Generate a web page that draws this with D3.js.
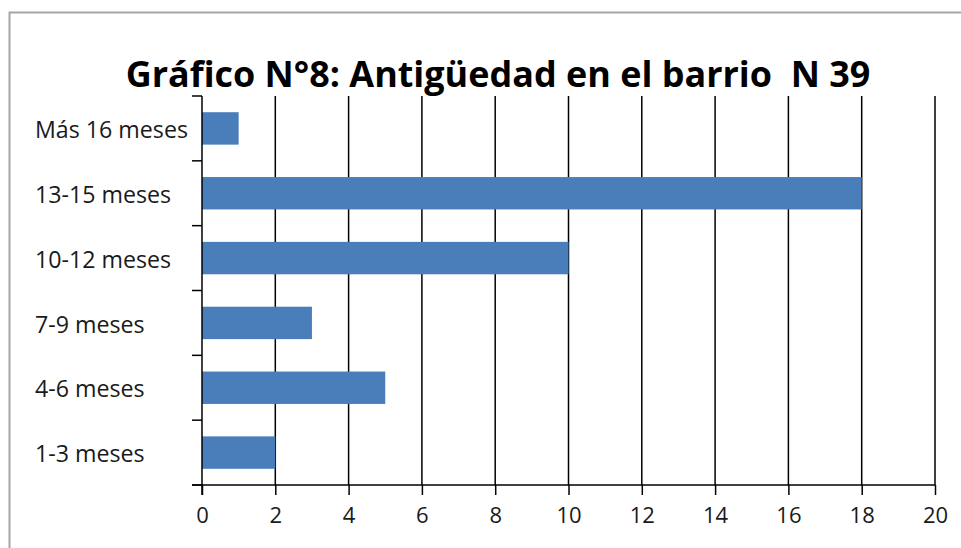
<!DOCTYPE html>
<html><head><meta charset="utf-8">
<script src="https://cdn.jsdelivr.net/npm/d3@7"></script>
<style>body{margin:0;background:#fff;} svg{display:block;}</style>
</head><body>
<svg id="c" width="961" height="548"></svg>
<script>
const categories = ["1-3 meses","4-6 meses","7-9 meses","10-12 meses","13-15 meses","Más 16 meses"];
const values = [2,5,3,10,18,1];
const xTicks = [0,2,4,6,8,10,12,14,16,18,20];
const title = "Gráfico N°8: Antigüedad en el barrio  N 39";

const svg = d3.select("#c");
const FONT = "'Open Sans', Lato, sans-serif";
// frame
svg.append("path").attr("d","M9.5,548 V12.5 H961").attr("fill","none").attr("stroke","#a6a6a6").attr("stroke-width",2);

const m = {left:202, right:935, top:96, bottom:485};
const x = d3.scaleLinear().domain([0,20]).range([m.left,m.right]);
const y = d3.scaleBand().domain(categories.slice().reverse()).range([m.top,m.bottom]).paddingInner(0.5).paddingOuter(0.25);

// gridlines
svg.append("g").selectAll("line").data(xTicks.slice(1)).join("line")
  .attr("x1",d=>x(d)).attr("x2",d=>x(d)).attr("y1",m.top).attr("y2",m.bottom)
  .attr("stroke","#000").attr("stroke-width",1.5);

// bars
svg.append("g").selectAll("rect").data(categories).join("rect")
  .attr("x",x(0)).attr("y",(d)=>y(d)).attr("height",y.bandwidth())
  .attr("width",(d,i)=>x(values[i])-x(0)).attr("fill","#4a7ebb");

// x axis
const xa = svg.append("g").attr("transform",`translate(0,${m.bottom})`)
  .call(d3.axisBottom(x).tickValues(xTicks).tickSize(10).tickPadding(12).tickSizeOuter(0));
xa.select(".domain").attr("d",`M${m.left-10},0H${m.right}`);
xa.selectAll("line").attr("stroke","#000").attr("stroke-width",1.5);
xa.select(".domain").attr("stroke","#000").attr("stroke-width",1.5);
xa.selectAll("text").attr("font-family",FONT).attr("font-size",22).attr("fill","#1a1a1a");

// y axis
const yEdges = d3.range(categories.length+1).map(i=>m.top + i*(m.bottom-m.top)/categories.length);
const ya = svg.append("g");
ya.append("line").attr("x1",m.left).attr("x2",m.left).attr("y1",m.top).attr("y2",m.bottom+10).attr("stroke","#000").attr("stroke-width",1.5);
ya.selectAll(".tk").data(yEdges).join("line").attr("class","tk")
  .attr("x1",m.left-10).attr("x2",m.left).attr("y1",d=>d).attr("y2",d=>d).attr("stroke","#000").attr("stroke-width",1.5);
const labs = ya.selectAll("text").data(categories).join("text")
  .attr("x",35).attr("y",d=>y(d)+y.bandwidth()/2).attr("dy","0.42em")
  .attr("text-anchor","start").attr("font-family",FONT).attr("font-size",20).attr("fill","#1a1a1a").text(d=>d);
// fit label size so the longest label spans ~153px
const longest = labs.filter(d=>d==="Más 16 meses").node().getComputedTextLength();
labs.attr("font-size",20*153/longest);

const t = svg.append("text").attr("x",498).attr("y",87).attr("text-anchor","middle")
  .style("white-space","pre")
  .attr("font-family",FONT).attr("font-weight","bold").attr("font-size",32).attr("fill","#000").text(title);
const tw = t.node().getComputedTextLength();
t.attr("font-size",32*745/tw);
</script>
</body></html>
